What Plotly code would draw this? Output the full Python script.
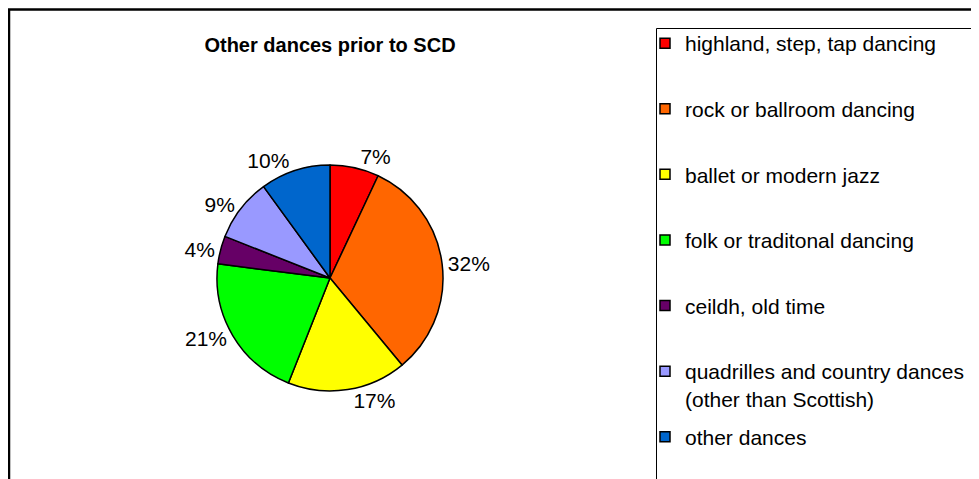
import plotly.graph_objects as go

categories = [
    "highland, step, tap dancing",
    "rock or ballroom dancing",
    "ballet or modern jazz",
    "folk or traditonal dancing",
    "ceildh, old time",
    "quadrilles and country dances<br>(other than Scottish)",
    "other dances",
]
values = [7, 32, 17, 21, 4, 9, 10]
colors = ["#FF0000", "#FF6600", "#FFFF00", "#00FF00", "#660066", "#9999FF", "#0066CC"]

W, H = 979, 479
FONT = "Liberation Sans, Arial, sans-serif"
OFF = 8  # page body margin


def px(x):
    return (x - OFF) / W


def py(y):
    return 1 - (y - OFF) / H


fig = go.Figure()
fig.add_trace(go.Pie(
    labels=[c.replace("<br>", " ") for c in categories],
    values=values,
    sort=False,
    direction="clockwise",
    rotation=0,
    marker=dict(colors=colors, line=dict(color="black", width=1.5)),
    texttemplate="%{value}%",
    textposition="outside",
    textfont=dict(family=FONT, size=21, color="black"),
    domain=dict(x=[px(217), px(443)], y=[py(391), py(165)]),
    showlegend=False,
    hoverinfo="label+percent",
))

# legend entries (one group each so the gap between them can be set)
for i, (c, col) in enumerate(zip(categories, colors)):
    n = c.count("<br>") + 1
    name = c
    if n == 1 and i < len(categories) - 1:
        name = c + "<br> "
    fig.add_trace(go.Scatter(
        x=[None], y=[None], mode="markers", name=name,
        legendgroup="g%d" % i,
        marker=dict(symbol="square", size=10, color=col, line=dict(color="black", width=1.5)),
        showlegend=True, hoverinfo="skip",
    ))

fig.update_layout(
    width=W, height=H,
    margin=dict(l=0, r=0, t=0, b=0),
    paper_bgcolor="white",
    plot_bgcolor="white",
    xaxis=dict(visible=False),
    yaxis=dict(visible=False),
    font=dict(family=FONT, size=21, color="black"),
    title=dict(text="<b>Other dances prior to SCD</b>", x=px(330), xanchor="center",
               y=py(45), yanchor="middle", font=dict(family=FONT, size=20, color="black")),
    legend=dict(
        x=px(645), xanchor="left", y=py(23), yanchor="top",
        borderwidth=0, bgcolor="rgba(0,0,0,0)",
        font=dict(family=FONT, size=21, color="black"),
        valign="top", traceorder="grouped", tracegroupgap=8,
        itemclick=False, itemdoubleclick=False,
    ),
    shapes=[
        dict(type="rect", xref="paper", yref="paper",
             x0=px(9), x1=1.05, y0=-0.05, y1=py(9.5),
             line=dict(color="black", width=2.5), layer="below"),
        dict(type="rect", xref="paper", yref="paper",
             x0=px(656.5), x1=1.05, y0=-0.05, y1=py(28.5),
             line=dict(color="black", width=1), layer="below"),
    ],
)

fig.write_html("out.html")
